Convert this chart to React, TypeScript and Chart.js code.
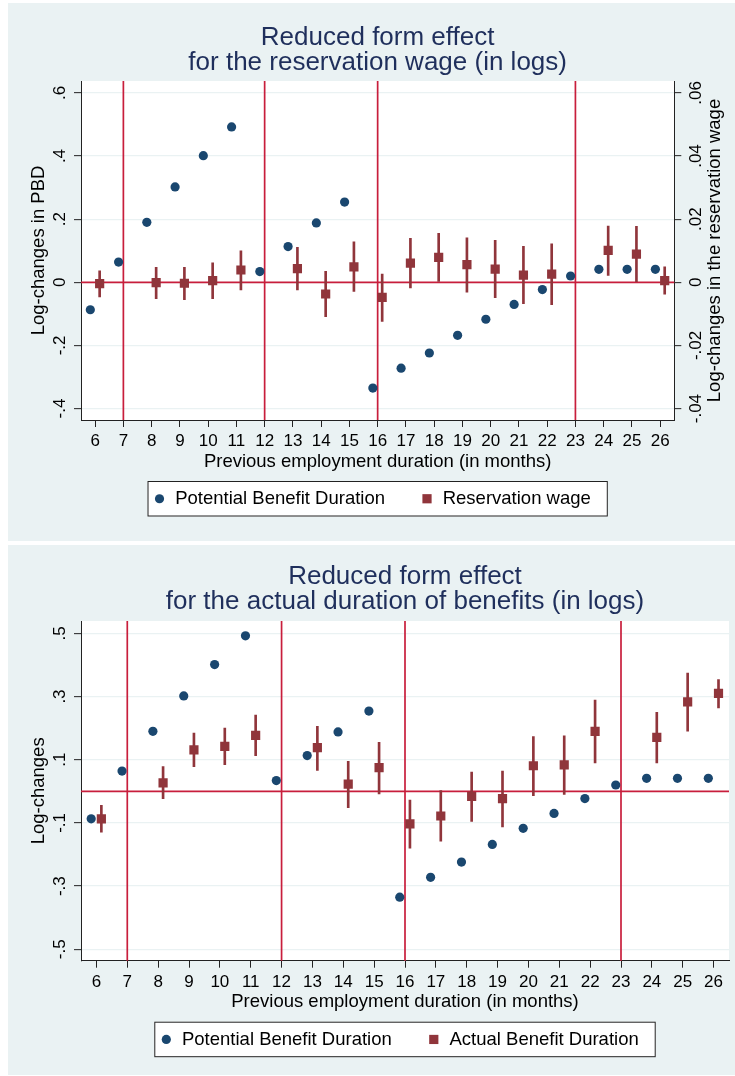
import React, { useEffect, useRef } from 'react';
import { Chart, registerables } from 'chart.js';

Chart.register(...registerables);

// ---------- data ----------
const MONTHS = [6, 7, 8, 9, 10, 11, 12, 13, 14, 15, 16, 17, 18, 19, 20, 21, 22, 23, 24, 25, 26];
const PBD = [-0.087, 0.064, 0.19, 0.302, 0.401, 0.492, 0.034, 0.113, 0.188, 0.254, -0.335, -0.272, -0.224, -0.168, -0.117, -0.07, -0.023, 0.02, 0.041, 0.041, 0.041];

const RW_MONTHS = [6, 8, 9, 10, 11, 13, 14, 15, 16, 17, 18, 19, 20, 21, 22, 24, 25, 26];
const RW = [-0.0004, -0.0001, -0.0003, 0.0005, 0.0039, 0.0043, -0.0037, 0.0049, -0.0048, 0.0061, 0.0079, 0.0056, 0.0042, 0.0023, 0.0026, 0.0101, 0.0089, 0.0005];
const RW_LO = [-0.0046, -0.0052, -0.0055, -0.0052, -0.0024, -0.0024, -0.0109, -0.0029, -0.0124, -0.0018, 0.0003, -0.0031, -0.0049, -0.0068, -0.0071, 0.0022, 0.0, -0.0038];
const RW_HI = [0.0036, 0.0047, 0.0047, 0.0062, 0.01, 0.0111, 0.0035, 0.0128, 0.0026, 0.0139, 0.0155, 0.0141, 0.0133, 0.0114, 0.0122, 0.0178, 0.0177, 0.0049];

const ABD_MONTHS = [6, 8, 9, 10, 11, 13, 14, 15, 16, 17, 18, 19, 20, 21, 22, 24, 25, 26];
const ABD = [-0.087, 0.027, 0.131, 0.142, 0.177, 0.138, 0.023, 0.075, -0.103, -0.078, -0.016, -0.023, 0.081, 0.084, 0.19, 0.171, 0.283, 0.31];
const ABD_LO = [-0.129, -0.023, 0.078, 0.084, 0.113, 0.066, -0.052, -0.008, -0.18, -0.158, -0.095, -0.113, -0.014, -0.01, 0.09, 0.09, 0.19, 0.264];
const ABD_HI = [-0.044, 0.078, 0.184, 0.2, 0.241, 0.206, 0.095, 0.155, -0.028, 0.002, 0.061, 0.064, 0.173, 0.176, 0.289, 0.25, 0.374, 0.354];

const THRESHOLDS = [7, 12, 16, 23];
const X_TICKS = MONTHS;
const TOP_LEFT_TICKS = [-0.4, -0.2, 0, 0.2, 0.4, 0.6];
const TOP_RIGHT_TICKS = [-0.04, -0.02, 0, 0.02, 0.04, 0.06];
const BOTTOM_TICKS = [-0.5, -0.3, -0.1, 0.1, 0.3, 0.5];

const TOP_TITLE = ['Reduced form effect', 'for the reservation wage (in logs)'];
const BOTTOM_TITLE = ['Reduced form effect', 'for the actual duration of benefits (in logs)'];
const X_TITLE = 'Previous employment duration (in months)';
const TOP_Y_TITLE = 'Log-changes in PBD';
const TOP_Y2_TITLE = 'Log-changes in the reservation wage';
const BOTTOM_Y_TITLE = 'Log-changes';
const TOP_LEGEND = ['Potential Benefit Duration', 'Reservation wage'];
const BOTTOM_LEGEND = ['Potential Benefit Duration', 'Actual Benefit Duration'];

// ---------- style ----------
const FONT = '"Liberation Sans", Arial, Helvetica, sans-serif';
const BG = '#eaf2f3';
const NAVY = '#1a476f';
const MAROON = '#90353b';
const RED = '#c81e3c';
const AXIS = '#222222';
const TITLE_COLOR = '#1f2f5c';
const PBD_SHIFT = -0.17;
const OTHER_SHIFT = 0.16;

const fmt = (v: number) => (v === 0 ? '0' : String(+v.toFixed(3)).replace(/^(-?)0\./, '$1.'));

const plotBg = {
  id: 'plotBg',
  beforeDraw(chart: any) {
    const { ctx, chartArea: a } = chart;
    ctx.save();
    ctx.fillStyle = '#ffffff';
    ctx.fillRect(a.left, a.top, a.right - a.left, a.bottom - a.top);
    ctx.restore();
  },
};

const refLines = {
  id: 'refLines',
  beforeDatasetsDraw(chart: any) {
    const { ctx, chartArea: a, scales } = chart;
    ctx.save();
    ctx.strokeStyle = RED;
    ctx.lineWidth = 1.7;
    THRESHOLDS.forEach((t) => {
      const x = scales.x.getPixelForValue(t);
      ctx.beginPath();
      ctx.moveTo(x, a.top);
      ctx.lineTo(x, a.bottom);
      ctx.stroke();
    });
    const y0 = scales.y.getPixelForValue(0);
    ctx.beginPath();
    ctx.moveTo(a.left, y0);
    ctx.lineTo(a.right, y0);
    ctx.stroke();
    ctx.restore();
  },
};

function makeLegendPlugin(labels: string[]) {
  return {
    id: 'boxLegend',
    afterDraw(chart: any) {
      const { ctx, chartArea: a } = chart;
      ctx.save();
      ctx.font = `18.5px ${FONT}`;
      const w1 = ctx.measureText(labels[0]).width;
      const w2 = ctx.measureText(labels[1]).width;
      const padL = 12, toText = 15.7, gap = 42, padR = 17;
      const total = padL + toText + w1 + gap + toText + w2 + padR;
      const cx = (a.left + a.right) / 2;
      const left = cx - total / 2;
      const top = a.bottom + 61;
      const h = 35.5;
      const cy = top + h / 2;
      ctx.fillStyle = '#ffffff';
      ctx.fillRect(left, top, total, h);
      ctx.strokeStyle = AXIS;
      ctx.lineWidth = 1;
      ctx.strokeRect(left + 0.5, top + 0.5, total - 1, h - 1);
      const m1 = left + padL;
      ctx.fillStyle = NAVY;
      ctx.beginPath();
      ctx.arc(m1, cy, 4.6, 0, Math.PI * 2);
      ctx.fill();
      ctx.fillStyle = '#000000';
      ctx.textAlign = 'left';
      ctx.textBaseline = 'middle';
      ctx.fillText(labels[0], m1 + toText, cy);
      const m2 = m1 + toText + w1 + gap;
      ctx.fillStyle = MAROON;
      ctx.fillRect(m2 - 4.6, cy - 4.6, 9.2, 9.2);
      ctx.fillStyle = '#000000';
      ctx.fillText(labels[1], m2 + toText, cy);
      ctx.restore();
    },
  };
}

const rightTitle = {
  id: 'rightTitle',
  afterDraw(chart: any) {
    const { ctx, chartArea: a } = chart;
    ctx.save();
    ctx.translate(a.right + 41, (a.top + a.bottom) / 2);
    ctx.rotate(-Math.PI / 2);
    ctx.font = `18.5px ${FONT}`;
    ctx.fillStyle = '#000000';
    ctx.textAlign = 'center';
    ctx.textBaseline = 'middle';
    ctx.fillText(TOP_Y2_TITLE, 0, 0);
    ctx.restore();
  },
};

function yAxis(ticks: number[], min: number, max: number, opts: any) {
  return {
    type: 'linear',
    position: opts.position,
    min,
    max,
    afterBuildTicks: (scale: any) => {
      scale.ticks = ticks.map((value) => ({ value }));
    },
    afterFit: (scale: any) => {
      scale.width = opts.width;
    },
    grid: {
      display: true,
      drawOnChartArea: opts.grid,
      color: BG,
      lineWidth: 1.3,
      drawTicks: true,
      tickLength: 7,
      tickColor: AXIS,
      tickWidth: 1,
    },
    border: { display: true, color: AXIS, width: 1 },
    ticks: {
      minRotation: 90,
      maxRotation: 90,
      crossAlign: 'center',
      padding: opts.pad,
      color: '#000000',
      font: { size: 17, family: FONT },
      callback: (v: number) => fmt(v),
    },
    title: opts.title
      ? {
          display: true,
          text: opts.title,
          color: '#000000',
          font: { size: 18.5, family: FONT },
          padding: { top: 11.4, bottom: 0 },
        }
      : { display: false },
  };
}

function xAxis() {
  return {
    type: 'linear',
    position: 'bottom',
    min: 5.5,
    max: 26.5,
    offset: false,
    afterBuildTicks: (scale: any) => {
      scale.ticks = X_TICKS.map((value) => ({ value }));
    },
    afterFit: (scale: any) => {
      scale.height = 56;
    },
    grid: {
      display: true,
      offset: false,
      drawOnChartArea: false,
      drawTicks: true,
      tickLength: 7,
      tickColor: AXIS,
      tickWidth: 1,
    },
    border: { display: true, color: AXIS, width: 1 },
    ticks: {
      maxRotation: 0,
      minRotation: 0,
      autoSkip: false,
      padding: 4,
      color: '#000000',
      font: { size: 17, family: FONT },
      callback: (v: number) => String(v),
    },
    title: {
      display: true,
      text: X_TITLE,
      color: '#000000',
      font: { size: 18.5, family: FONT },
      padding: { top: 0, bottom: 3.4 },
    },
  };
}

function datasets(months: number[], vals: number[], lo: number[], hi: number[], yId: string) {
  return [
    {
      type: 'scatter',
      label: 'pbd',
      data: MONTHS.map((m, i) => ({ x: m + PBD_SHIFT, y: PBD[i] })),
      yAxisID: 'y',
      pointStyle: 'circle',
      pointRadius: 4.6,
      pointBackgroundColor: NAVY,
      pointBorderWidth: 0,
      showLine: false,
      order: 1,
    },
    {
      type: 'scatter',
      label: 'est',
      data: months.map((m, i) => ({ x: m + OTHER_SHIFT, y: vals[i] })),
      yAxisID: yId,
      pointStyle: 'rect',
      pointRadius: 6.5,
      pointBackgroundColor: MAROON,
      pointBorderWidth: 0,
      showLine: false,
      order: 0,
    },
    {
      type: 'bar',
      label: 'ci',
      data: months.map((m, i) => ({ x: m + OTHER_SHIFT, y: [lo[i], hi[i]] })),
      yAxisID: yId,
      backgroundColor: MAROON,
      borderWidth: 0,
      barThickness: 2,
      grouped: false,
      order: 2,
    },
  ];
}

function ChartPanel({ config, width, height }: any) {
  const ref = useRef<HTMLCanvasElement | null>(null);
  useEffect(() => {
    if (!ref.current) return;
    const chart = new Chart(ref.current, config);
    return () => chart.destroy();
  }, []);
  return <canvas ref={ref} width={width} height={height} style={{ width, height, display: 'block' }} />;
}

const common = {
  responsive: false,
  maintainAspectRatio: false,
  animation: false,
  events: [],
};

const topConfig: any = {
  type: 'scatter',
  data: { datasets: datasets(RW_MONTHS, RW, RW_LO, RW_HI, 'y2') },
  options: {
    ...common,
    layout: { padding: { left: 8, right: 8, top: 8, bottom: 65 }, autoPadding: false },
    plugins: {
      legend: { display: false },
      tooltip: { enabled: false },
      title: {
        display: true,
        fullSize: false,
        text: TOP_TITLE,
        color: TITLE_COLOR,
        font: { size: 26, family: FONT, weight: 'normal', lineHeight: '25px' },
        padding: { top: 14.5, bottom: 5.5 },
      },
    },
    scales: {
      x: xAxis(),
      y: yAxis(TOP_LEFT_TICKS, -0.4362, 0.6376, { position: 'left', width: 65, grid: true, pad: 3.8, title: TOP_Y_TITLE }),
      y2: yAxis(TOP_RIGHT_TICKS, -0.04362, 0.06376, { position: 'right', width: 52.7, grid: false, pad: 0, title: null }),
    },
  },
  plugins: [plotBg, refLines, makeLegendPlugin(TOP_LEGEND), rightTitle],
};

const bottomConfig: any = {
  type: 'scatter',
  data: { datasets: datasets(ABD_MONTHS, ABD, ABD_LO, ABD_HI, 'y') },
  options: {
    ...common,
    layout: { padding: { left: 8, right: 6, top: 8, bottom: 58.3 }, autoPadding: false },
    plugins: {
      legend: { display: false },
      tooltip: { enabled: false },
      title: {
        display: true,
        fullSize: false,
        text: BOTTOM_TITLE,
        color: TITLE_COLOR,
        font: { size: 26, family: FONT, weight: 'normal', lineHeight: '25px' },
        padding: { top: 11.2, bottom: 6.8 },
      },
    },
    scales: {
      x: xAxis(),
      y: yAxis(BOTTOM_TICKS, -0.536, 0.539, { position: 'left', width: 65, grid: true, pad: 3.8, title: BOTTOM_Y_TITLE }),
    },
  },
  plugins: [plotBg, refLines, makeLegendPlugin(BOTTOM_LEGEND)],
};

export default function App() {
  return (
    <div style={{ position: 'absolute', left: 0, top: 0, width: 735, height: 1076, background: '#ffffff', overflow: 'hidden' }}>
      <div style={{ position: 'absolute', left: 8, top: 3, width: 727, height: 538, background: BG }}>
        <ChartPanel config={topConfig} width={727} height={538} />
      </div>
      <div style={{ position: 'absolute', left: 8, top: 545, width: 727, height: 530, background: BG }}>
        <ChartPanel config={bottomConfig} width={727} height={530} />
      </div>
    </div>
  );
}
